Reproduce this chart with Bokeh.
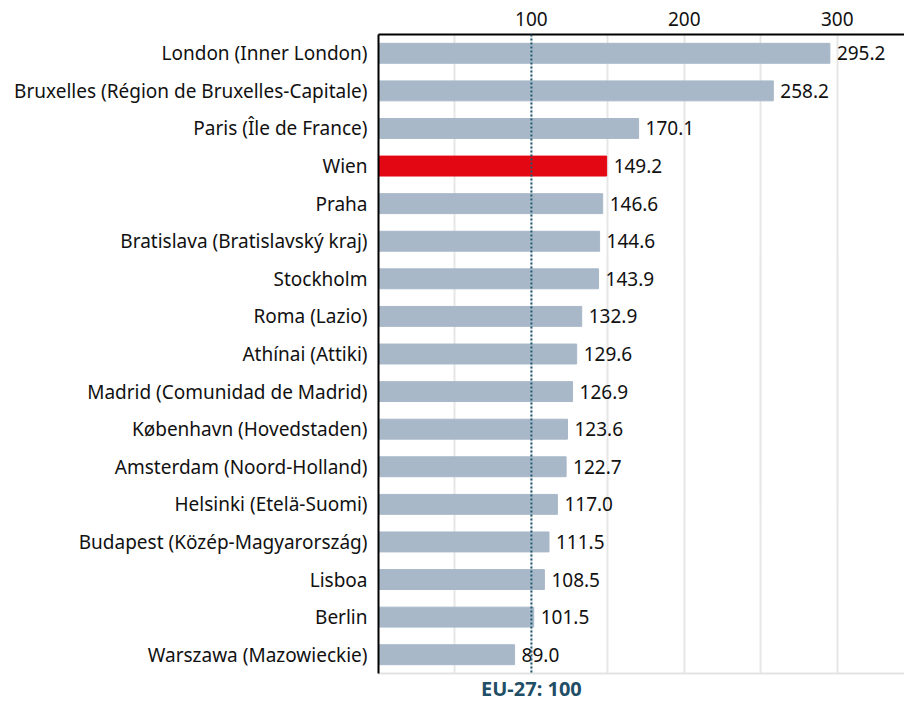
from bokeh.plotting import figure
from bokeh.models import ColumnDataSource, Span, FixedTicker, Range1d, LabelSet, LinearAxis
from bokeh.core.properties import value
from bokeh.embed import file_html
from bokeh.resources import INLINE

regions = [
    "London (Inner London)",
    "Bruxelles (Région de Bruxelles-Capitale)",
    "Paris (Île de France)",
    "Wien",
    "Praha",
    "Bratislava (Bratislavský kraj)",
    "Stockholm",
    "Roma (Lazio)",
    "Athínai (Attiki)",
    "Madrid (Comunidad de Madrid)",
    "København (Hovedstaden)",
    "Amsterdam (Noord-Holland)",
    "Helsinki (Etelä-Suomi)",
    "Budapest (Közép-Magyarország)",
    "Lisboa",
    "Berlin",
    "Warszawa (Mazowieckie)",
]
values = [295.2, 258.2, 170.1, 149.2, 146.6, 144.6, 143.9, 132.9, 129.6,
          126.9, 123.6, 122.7, 117.0, 111.5, 108.5, 101.5, 89.0]
highlight = "Wien"
eu_average = 100
eu_label = "EU-27: 100"
top_ticks = [100, 200, 300]
grid_ticks = [50, 100, 150, 200, 250, 300]

FONT = "Noto Sans"
FS = "19px"
colors = ["#e30613" if r == highlight else "#a8b8c8" for r in regions]
src = ColumnDataSource(dict(
    region=regions,
    value=values,
    color=colors,
    label=[f"{v:.1f}" for v in values],
))

p = figure(
    width=904, height=704,
    y_range=list(reversed(regions)),
    x_range=Range1d(0, 344),
    x_axis_location="above",
    output_backend="svg",
    toolbar_location=None,
    min_border_left=378, min_border_right=0,
    min_border_top=34, min_border_bottom=0,
)
p.outline_line_color = None
p.background_fill_color = "white"
p.border_fill_color = "white"

p.hbar(y="region", right="value", left=0, height=0.53, color="color", source=src)

labels = LabelSet(x="value", y="region", text="label", source=src,
                  x_offset=7, y_offset=0, text_baseline="middle",
                  text_font=value(FONT), text_font_size=FS, text_color="#111111")
p.add_layout(labels)

span = Span(location=eu_average, dimension="height", line_color="#1f5a70",
            line_width=2, line_dash="2 2")
p.add_layout(span)

# bottom axis carrying the EU-27 label and the light bottom line
ba = LinearAxis(ticker=FixedTicker(ticks=[eu_average]),
                major_label_overrides={eu_average: eu_label})
ba.axis_line_color = "#e3e3e3"
ba.axis_line_width = 2
ba.major_tick_line_color = None
ba.minor_tick_line_color = None
ba.major_tick_out = 0
ba.major_tick_in = 0
ba.minor_tick_out = 0
ba.major_label_text_font = FONT
ba.major_label_text_font_size = "20px"
ba.major_label_text_font_style = "bold"
ba.major_label_text_color = "#1f4e66"
ba.major_label_standoff = 1
p.add_layout(ba, "below")

# top axis
xa = p.xaxis[0]
xa.ticker = FixedTicker(ticks=top_ticks)
xa.major_tick_line_color = None
xa.minor_tick_line_color = None
xa.axis_line_color = "black"
xa.axis_line_width = 2
xa.major_label_text_font = FONT
xa.major_label_text_font_size = FS
xa.major_label_text_color = "#111111"
xa.major_label_standoff = 3

ya = p.yaxis[0]
ya.major_tick_line_color = None
ya.minor_tick_line_color = None
ya.axis_line_color = "black"
ya.axis_line_width = 2
ya.major_label_text_font = FONT
ya.major_label_text_font_size = FS
ya.major_label_text_color = "#111111"
ya.major_label_standoff = 5

p.ygrid.grid_line_color = None
p.xgrid.ticker = FixedTicker(ticks=grid_ticks)
p.xgrid.grid_line_color = "#e6e6e6"
p.xgrid.grid_line_width = 2

open("out.html", "w").write(file_html(p, INLINE))
